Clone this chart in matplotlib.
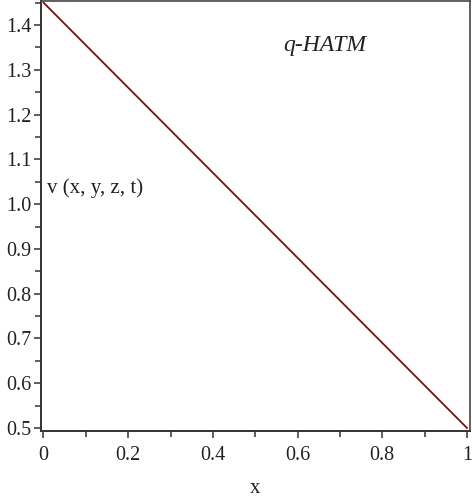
import matplotlib
matplotlib.use("Agg")
import matplotlib.pyplot as plt
import numpy as np
from matplotlib.ticker import MultipleLocator, FixedLocator

x_vals = [0.0, 1.0]
v_vals = [1.45, 0.50]
x_ticks = [0, 0.2, 0.4, 0.6, 0.8, 1]
x_tick_labels = ["0", "0.2", "0.4", "0.6", "0.8", "1"]
y_ticks = [0.5, 0.6, 0.7, 0.8, 0.9, 1.0, 1.1, 1.2, 1.3, 1.4]
y_tick_labels = ["0.5", "0.6", "0.7", "0.8", "0.9", "1.0", "1.1", "1.2", "1.3", "1.4"]

plt.rcParams['font.family'] = ['Liberation Serif', 'DejaVu Serif']

fig = plt.figure(figsize=(4.72, 5.0), dpi=100)
ax = fig.add_axes([41/472, 1 - 431/500, (470-41)/472, (431-1)/500])

ax.plot(x_vals, v_vals, color='#7a1010', lw=1.3)

ax.set_xlim(-0.0059, 1.0071)
ax.set_ylim(0.4933, 1.4536)

ax.set_xticks(x_ticks)
ax.set_xticklabels(x_tick_labels)
ax.set_yticks(y_ticks)
ax.set_yticklabels(y_tick_labels)
ax.xaxis.set_minor_locator(FixedLocator([0.1, 0.3, 0.5, 0.7, 0.9]))
ax.yaxis.set_minor_locator(FixedLocator([0.55, 0.65, 0.75, 0.85, 0.95, 1.05, 1.15, 1.25, 1.35, 1.45]))

ax.tick_params(axis='both', which='major', direction='out', length=5, width=1.1,
               color='#333333', labelsize=14.5, labelcolor='#222222')
ax.tick_params(axis='both', which='minor', direction='out', length=4, width=1.1,
               color='#333333')
ax.tick_params(axis='x', pad=6)
ax.tick_params(axis='y', pad=2)

for side in ['left', 'bottom']:
    ax.spines[side].set_linewidth(1.4)
    ax.spines[side].set_color('#333333')
for side in ['top', 'right']:
    ax.spines[side].set_linewidth(1.2)
    ax.spines[side].set_color('#444444')

ax.text(0.665, 1.355, "q-HATM", fontsize=17, style='italic', ha='center', va='center', color='#222222')
ax.text(0.009, 1.036, "v (x, y, z, t)", fontsize=15, ha='left', va='center', color='#222222')

ax.set_xlabel("x", fontsize=15, color='#222222', labelpad=10)

fig.savefig("out.png", dpi=100)
